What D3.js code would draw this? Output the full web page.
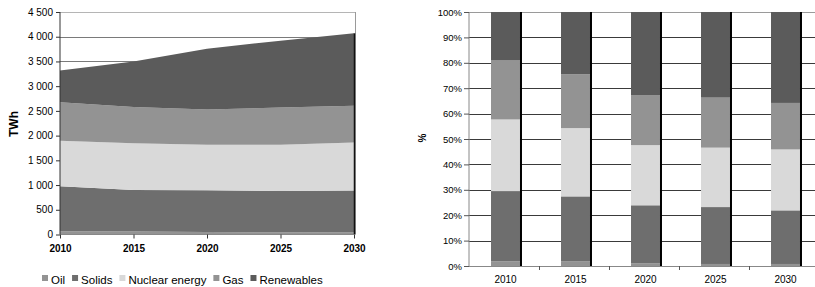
<!DOCTYPE html>
<html>
<head>
<meta charset="utf-8">
<script src="https://cdn.jsdelivr.net/npm/d3@7"></script>
<style>
  html, body { margin: 0; padding: 0; background: #fff; }
  svg { display: block; font-family: "Liberation Sans", Arial, sans-serif; }
</style>
</head>
<body>
<svg id="chart" width="815" height="287"></svg>
<script>
// ---- data ----
const years = [2010, 2015, 2020, 2025, 2030];
const seriesNames = ["Oil", "Solids", "Nuclear energy", "Gas", "Renewables"];
// TWh (left chart, stacked area)
const oilTWh        = [65, 60, 50, 45, 40];
const solidsTWh     = [910, 842, 844, 836, 848];
const nuclearTWh    = [922, 941, 922, 935, 975];
const gasTWh        = [780, 734, 713, 753, 740];
const renewablesTWh = [638, 923, 1230, 1352, 1467];
// shares in % (right chart, 100% stacked columns)
const oilPct        = [1.8, 1.9, 1.0, 0.8, 0.8];
const solidsPct     = [27.7, 25.5, 22.9, 22.4, 21.1];
const nuclearPct    = [28.2, 26.9, 23.7, 23.4, 24.0];
const gasPct        = [23.4, 21.2, 19.7, 19.7, 18.3];
const renewablesPct = [18.9, 24.5, 32.7, 33.7, 35.8];
const twhTicks = [0, 500, 1000, 1500, 2000, 2500, 3000, 3500, 4000, 4500];
const pctTicks = [0, 10, 20, 30, 40, 50, 60, 70, 80, 90, 100];
const colors = ["#939393", "#6e6e6e", "#d9d9d9", "#939393", "#5b5b5b"];

const svg = d3.select("#chart");
const fmtSpace = d => d3.format(",")(d).replace(/,/g, " ");

function rows(arrs) {
  return years.map((y, i) => {
    const r = { year: y };
    seriesNames.forEach((n, k) => r[n] = arrs[k][i]);
    return r;
  });
}

// ---- left chart ----
const L = { x0: 60, x1: 354, y0: 234.5, y1: 12, right: 355 };
const xL = d3.scaleLinear().domain([2010, 2030]).range([L.x0, L.x1]);
const yL = d3.scaleLinear().domain([0, 4500]).range([L.y0, L.y1]);
const stackL = d3.stack().keys(seriesNames)(rows([oilTWh, solidsTWh, nuclearTWh, gasTWh, renewablesTWh]));

const gL = svg.append("g");
// gridlines
gL.selectAll("line.grid").data(twhTicks.filter(t => t > 0)).join("line")
  .attr("x1", L.x0).attr("x2", L.right)
  .attr("y1", d => Math.round(yL(d)) + 0.5).attr("y2", d => Math.round(yL(d)) + 0.5)
  .attr("stroke", d => d === 4500 ? "#b5b5b5" : "#7a7a7a").attr("stroke-width", 1);
// right border
gL.append("line").attr("x1", L.right + 0.5).attr("x2", L.right + 0.5)
  .attr("y1", L.y1).attr("y2", L.y0).attr("stroke", "#9a9a9a");

const area = d3.area().x(d => xL(d.data.year)).y0(d => yL(d[0])).y1(d => yL(d[1]));
gL.selectAll("path.area").data(stackL).join("path")
  .attr("d", area).attr("fill", (d, i) => colors[i]);
// dark edge on the right side of the area
gL.append("line").attr("x1", xL(2030) + 0.5).attr("x2", xL(2030) + 0.5)
  .attr("y1", yL(d3.sum(seriesNames.map((n, k) => [oilTWh, solidsTWh, nuclearTWh, gasTWh, renewablesTWh][k][4]))))
  .attr("y2", L.y0).attr("stroke", "#111").attr("stroke-width", 1.5);

// y axis
const yAxisL = d3.axisLeft(yL).tickValues(twhTicks).tickFormat(fmtSpace).tickSize(4).tickPadding(3);
gL.append("g").attr("transform", `translate(${L.x0},0)`).call(yAxisL)
  .call(g => g.select(".domain").attr("stroke", "#333").attr("d", `M-0,${L.y1}V${L.y0}`))
  .call(g => g.selectAll(".tick line").attr("stroke", "#333"))
  .call(g => g.selectAll("text").attr("font-size", 10).attr("fill", "#000").attr("font-family", "Liberation Sans, Arial, sans-serif"));
// x axis
const xAxisL = d3.axisBottom(xL).tickValues(years).tickFormat(d3.format("d")).tickSize(4).tickPadding(6);
gL.append("g").attr("transform", `translate(0,${L.y0})`).call(xAxisL)
  .call(g => g.select(".domain").attr("stroke", "#888").attr("d", `M${L.x0},0H${L.right}`))
  .call(g => g.selectAll(".tick line").attr("stroke", "#333"))
  .call(g => g.selectAll("text").attr("font-size", 10).attr("font-weight", "bold").attr("fill", "#000").attr("font-family", "Liberation Sans, Arial, sans-serif"));
// y title
gL.append("text").attr("transform", "translate(18,124) rotate(-90)")
  .attr("text-anchor", "middle").attr("font-size", 12).attr("font-weight", "bold").text("TWh");

// legend
const leg = gL.append("g").attr("transform", "translate(42,280)");
let lx = 0;
seriesNames.forEach((n, i) => {
  leg.append("rect").attr("x", lx).attr("y", -5).attr("width", 6).attr("height", 6).attr("fill", colors[i]);
  const t = leg.append("text").attr("x", lx + 9).attr("y", 4).attr("font-size", 11.5).attr("fill", "#000").text(n);
  lx += 9 + t.node().getComputedTextLength() + 7;
});

// ---- right chart ----
const R = { x0: 469, x1: 819, y0: 266, y1: 12 };
const xR = d3.scaleBand().domain(years).range([R.x0, R.x1]).paddingInner(0.586).paddingOuter(0.293);
const yR = d3.scaleLinear().domain([0, 100]).range([R.y0, R.y1]);
const stackR = d3.stack().keys(seriesNames)(rows([oilPct, solidsPct, nuclearPct, gasPct, renewablesPct]));

const gR = svg.append("g");
gR.selectAll("line.grid").data(pctTicks.filter(t => t > 0)).join("line")
  .attr("x1", R.x0).attr("x2", 815)
  .attr("y1", d => Math.round(yR(d)) + 0.5).attr("y2", d => Math.round(yR(d)) + 0.5)
  .attr("stroke", d => d === 100 ? "#9a9a9a" : "#3a3a3a").attr("stroke-width", 1);

gR.selectAll("g.series").data(stackR).join("g").attr("fill", (d, i) => colors[i])
  .selectAll("rect").data(d => d).join("rect")
  .attr("x", d => xR(d.data.year) + 1.5).attr("width", xR.bandwidth())
  .attr("y", d => yR(d[1])).attr("height", d => yR(d[0]) - yR(d[1]));
// black shadow edge on bars
gR.selectAll("rect.edge").data(years).join("rect")
  .attr("x", d => xR(d) + 1.5 + xR.bandwidth()).attr("width", 2)
  .attr("y", yR(100)).attr("height", yR(0) - yR(100)).attr("fill", "#000");

const yAxisR = d3.axisLeft(yR).tickValues(pctTicks).tickFormat(d => d + "%").tickSize(5).tickPadding(2);
gR.append("g").attr("transform", `translate(${R.x0},0)`).call(yAxisR)
  .call(g => g.select(".domain").attr("stroke", "#888").attr("d", `M-0,${R.y1}V${R.y0}`))
  .call(g => g.selectAll(".tick line").attr("stroke", "#555"))
  .call(g => g.selectAll("text").attr("font-size", 9.5).attr("fill", "#000").attr("font-family", "Liberation Sans, Arial, sans-serif"));
const xAxisR = d3.axisBottom(xR).tickSize(0).tickPadding(10);
gR.append("g").attr("transform", `translate(1.5,${R.y0})`).call(xAxisR)
  .call(g => g.select(".domain").remove())
  .call(g => g.selectAll("text").attr("font-size", 10).attr("fill", "#000").attr("font-family", "Liberation Sans, Arial, sans-serif"));
gR.append("line").attr("x1", R.x0).attr("x2", 815).attr("y1", R.y0 + 0.5).attr("y2", R.y0 + 0.5).attr("stroke", "#888");
// category boundary ticks
gR.selectAll("line.ctick").data(years.slice(1)).join("line")
  .attr("x1", d => Math.round(xR(d) - xR.step() * xR.paddingInner() / 2) + 0.5)
  .attr("x2", d => Math.round(xR(d) - xR.step() * xR.paddingInner() / 2) + 0.5)
  .attr("y1", R.y0).attr("y2", R.y0 + 4).attr("stroke", "#555");
gR.append("text").attr("transform", "translate(426,138) rotate(-90)")
  .attr("text-anchor", "middle").attr("font-size", 10).attr("font-weight", "bold").text("%");
</script>
</body>
</html>
